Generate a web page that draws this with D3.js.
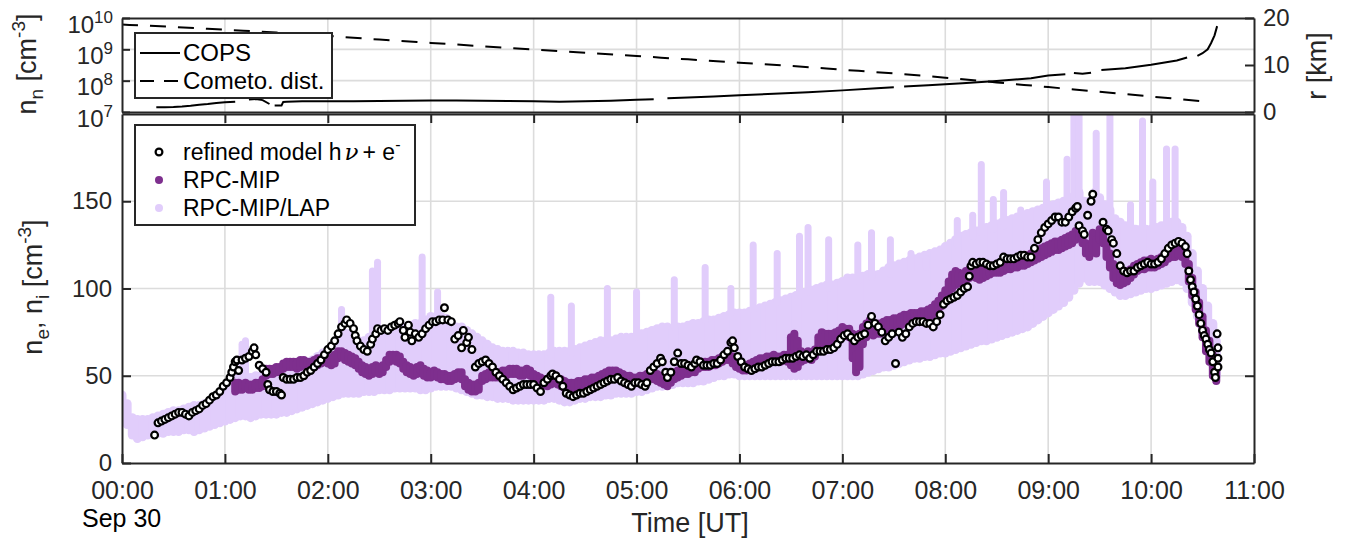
<!DOCTYPE html>
<html><head><meta charset="utf-8">
<script src="https://cdn.jsdelivr.net/npm/d3@7"></script>
<style>body{margin:0;background:#fff} svg{display:block;font-family:"Liberation Sans",Arial,Helvetica,sans-serif}</style>
</head><body><svg id="c" width="1352" height="543"></svg>
<script>
// ---------------- DATA (time in minutes after 00:00 UT, Sep 30) ----------------
const hourTicks = [0,60,120,180,240,300,360,420,480,540,600,660];
const hourLabels = ["00:00","01:00","02:00","03:00","04:00","05:00","06:00","07:00","08:00","09:00","10:00","11:00"];
const nTicks = [0,50,100,150];
const rTicks = [0,10,20];
const logTicks = [1e7,1e8,1e9,1e10];

// COPS neutral density (cm^-3); null marks a data gap
const copsT = [20,25,30,35,40,45,50,55,60,66,68,74,78,82,86,87,89,93,94,96,105,120,135,150,165,180,195,210,225,240,255,270,285,300,310,312,318,330,345,360,380,400,420,440,450,452,456,470,490,510,530,540,550,552,555,560,565,567,571,585,600,615,621,623,627,630,633,635,637,638.5];
const copsV = [1.41e7,1.43e7,1.45e7,1.5e7,1.58e7,1.7e7,1.8e7,1.95e7,2.04e7,2.14e7,null,2.5e7,2.6e7,2.4e7,1.8e7,null,1.6e7,1.62e7,2.1e7,2.14e7,2.2e7,2.2e7,2.2e7,2.24e7,2.29e7,2.34e7,2.34e7,2.29e7,2.24e7,2.2e7,2.14e7,2.2e7,2.29e7,2.45e7,2.55e7,null,2.75e7,2.9e7,3.1e7,3.4e7,3.8e7,4.3e7,4.9e7,5.7e7,6.2e7,null,6.5e7,7.2e7,8.3e7,9.8e7,1.2e8,1.45e8,1.6e8,null,1.75e8,1.65e8,1.8e8,null,2.2e8,2.5e8,3.2e8,4.4e8,5.5e8,null,6.2e8,7.5e8,1.0e9,1.6e9,2.8e9,5.5e9];

// Cometocentric distance (km)
const distT = [0,30,60,90,120,150,180,210,240,270,300,330,360,390,420,450,480,510,540,570,600,633];
const distV = [18.6,18.1,17.5,16.9,16.2,15.4,14.7,14.0,13.3,12.6,11.9,11.2,10.5,9.8,9.0,8.2,7.3,6.3,5.3,4.3,3.3,2.2];

// Refined model h nu + e- (cm^-3)
const modelT = [19,21,23,25,27,29,31,33,35,37,39,41,43,45,47,49,51,53,55,57,59,61,63,64,65,66,67,68,70,72,74,76,77,78,80,82,84,85,86,88,90,92,93,94,96,98,100,102,104,106,108,110,112,114,116,118,120,122,124,126,128,130,131,133,135,136,137,139,141,143,145,146,148,149,151,153,155,157,159,161,162,164,165,167,168,169,171,173,175,177,179,181,183,185,187,188,190,192,194,196,198,199,201,202,204,206,208,210,212,214,216,218,220,222,224,226,228,230,232,234,236,238,240,242,244,246,248,250,251,253,255,257,259,261,263,265,267,269,271,273,275,277,279,281,283,285,287,289,291,293,295,297,299,301,303,305,306,308,310,312,314,315,317,318,320,322,324,326,328,330,332,334,335,337,339,341,343,345,347,349,351,353,355,356,357,359,361,363,365,367,369,371,373,375,377,379,381,383,385,387,389,391,393,395,397,399,401,403,405,407,409,411,413,415,417,419,421,423,425,427,429,431,433,435,437,439,441,443,445,447,449,451,453,455,457,459,461,463,465,467,469,471,473,475,477,479,481,483,485,487,489,491,493,494,495,496,498,500,502,504,506,508,510,512,514,516,518,520,522,524,526,528,530,532,534,536,538,540,542,544,546,548,550,552,554,556,557,558,560,561,563,565,566,572,574,575,577,578,580,582,584,586,588,590,592,594,596,598,600,602,604,606,608,610,612,614,616,618,620,621,622,623,624,625,626,627,628,629,630,631,632,633,634,635,636,637,637.5,638.5,639,639,639];
const modelV = [16,23,24,25,26,27,28,29,29,28,27,29,30,31,33,34,36,38,39,41,44,46,49,52,55,58,59,53,59,60,61,64,66,62,56,54,52,45,42,41,41,40,39,49,48,48,48,49,49,50,52,53,55,57,59,62,65,67,70,74,78,80,82,80,77,73,70,67,65,64,68,71,74,77,76,77,76,78,79,80,81,76,72,79,75,70,74,72,74,77,79,81,81,82,82,89,82,81,71,73,66,76,69,72,65,55,57,58,59,57,55,52,50,48,46,44,42,43,44,45,45,45,45,43,41,46,48,50,51,50,48,44,40,39,38,39,40,40,41,42,43,44,45,46,47,48,48,49,47,46,45,44,46,46,45,44,46,53,55,57,60,58,52,49,52,58,63,57,57,56,55,57,59,58,56,56,56,57,57,59,62,64,69,70,66,61,58,55,54,53,54,55,55,56,57,58,58,58,59,60,60,60,61,62,61,62,60,62,64,64,64,65,65,66,68,71,73,74,72,70,72,73,74,79,84,80,78,75,70,72,74,57,75,72,74,78,80,81,81,81,80,80,78,81,85,91,93,94,95,96,98,100,101,107,113,115,114,115,115,114,113,113,114,115,118,117,117,117,118,119,119,118,118,123,128,132,135,137,139,141,141,138,138,141,144,146,147,136,133,131,142,150,154,138,134,133,128,126,120,113,110,109,110,110,112,113,114,115,114,114,115,117,120,123,125,126,127,126,124,120,110,105,101,98,94,90,85,80,76,73,71,68,65,63,58,52,49,74,66,60,55];

// RPC-MIP (cm^-3): band of dense points, lower / upper edge per 2 min
const mipT  = [66,68,70,72,74,76,78,80,82,84,86,88,90,92,94,96,98,100,102,104,106,108,110,112,114,116,118,120,122,124,126,128,130,132,134,136,138,140,142,144,146,148,150,152,154,156,158,160,162,164,166,168,170,172,174,176,178,180,182,184,186,188,190,192,194,196,198,200,202,204,206,208,210,212,214,216,218,220,222,224,226,228,230,232,234,236,238,240,242,244,246,248,250,252,254,256,258,260,262,264,266,268,270,272,274,276,278,280,282,284,286,288,290,292,294,296,298,300,302,304,306,308,310,312,314,316,318,320,322,324,326,328,330,332,334,336,338,340,342,344,346,348,350,352,354,356,358,360,362,364,366,368,370,372,374,376,378,380,382,384,386,388,390,392,394,396,398,400,402,404,406,408,410,412,414,416,418,420,422,424,426,428,430,432,434,436,438,440,442,444,446,448,450,452,454,456,458,460,462,464,466,468,470,472,474,476,478,480,482,484,486,488,490,492,494,496,498,500,502,504,506,508,510,512,514,516,518,520,522,524,526,528,530,532,534,536,538,540,542,544,546,548,550,552,554,556,558,560,562,564,566,568,570,572,574,576,578,580,582,584,586,588,590,592,594,596,598,600,602,604,606,608,610,612,614,616,618,620,622,624,626,628,630,632,634,636,638];
const mipLo = [41,42,42,43,42,42,43,43,44,50,51,51,52,52,54,55,55,55,54,55,56,55,54,55,56,57,58,57,56,57,60,61,59,58,57,56,54,52,51,50,51,52,51,52,55,58,59,58,57,54,52,51,50,51,53,50,49,49,50,49,48,48,47,47,48,49,48,44,42,41,41,42,47,48,49,49,49,49,50,50,51,51,51,50,50,51,50,48,47,46,45,44,45,46,45,44,43,42,42,43,43,44,44,45,46,46,47,48,49,50,50,49,49,48,47,46,46,46,47,47,48,49,48,47,46,45,44,46,48,49,50,51,51,52,52,54,55,55,55,56,56,57,58,59,59,57,55,54,53,53,54,55,56,57,57,58,58,59,58,58,59,58,56,54,55,58,59,60,59,61,64,66,67,68,68,69,70,72,73,72,60,52,55,68,72,74,73,74,74,75,76,76,77,78,79,80,80,81,81,82,82,82,83,84,86,88,90,92,96,100,102,103,103,104,106,107,106,105,106,107,108,109,109,109,110,111,111,112,112,113,113,114,115,116,117,118,119,120,121,122,122,123,124,125,126,128,130,126,120,118,122,120,128,126,118,112,106,103,102,103,104,106,108,110,111,111,112,112,112,113,114,115,117,118,118,119,118,114,104,96,88,80,72,64,58,50,47];
const mipHi = [46,46,45,46,45,45,46,46,48,54,54,54,55,55,57,58,58,58,58,59,59,58,58,59,60,60,62,61,60,62,64,64,63,62,61,60,58,56,55,54,55,56,55,56,59,62,62,62,61,58,56,55,54,55,56,54,53,52,53,52,51,51,50,50,51,52,52,48,46,45,45,46,50,51,52,52,52,52,53,53,54,54,54,53,53,54,53,51,50,49,48,48,48,49,48,48,47,46,46,46,47,47,48,48,49,49,50,51,52,53,53,53,52,51,50,50,49,49,50,50,51,52,52,51,50,49,48,50,52,53,53,54,54,55,56,57,58,58,58,59,59,60,61,62,62,61,59,57,56,56,57,58,59,60,60,61,61,62,61,61,62,62,72,74,70,64,63,64,63,65,72,75,74,74,74,75,76,78,77,77,74,62,74,78,80,82,80,80,80,81,82,82,83,83,84,85,85,86,86,86,87,87,88,89,91,93,96,99,104,108,110,109,108,110,111,112,111,110,111,112,113,113,114,114,115,115,116,117,117,118,118,119,120,121,122,123,124,125,126,127,127,128,129,130,131,133,135,132,126,124,132,128,134,133,126,120,114,110,108,109,110,111,113,114,115,116,116,117,116,117,118,119,121,122,123,124,123,122,114,106,98,92,84,76,70,62,55];

// RPC-MIP/LAP (cm^-3): main point cloud, lower / upper edge per 3 min
const lapT  = [0,3,6,9,12,15,18,21,24,27,30,33,36,39,42,45,48,51,54,57,60,63,66,69,72,75,78,81,84,87,90,93,96,99,102,105,108,111,114,117,120,123,126,129,132,135,138,141,144,147,150,153,156,159,162,165,168,171,174,177,180,183,186,189,192,195,198,201,204,207,210,213,216,219,222,225,228,231,234,237,240,243,246,249,252,255,258,261,264,267,270,273,276,279,282,285,288,291,294,297,300,303,306,309,312,315,318,321,324,327,330,333,336,339,342,345,348,351,354,357,360,363,366,369,372,375,378,381,384,387,390,393,396,399,402,405,408,411,414,417,420,423,426,429,432,435,438,441,444,447,450,453,456,459,462,465,468,471,474,477,480,483,486,489,492,495,498,501,504,507,510,513,516,519,522,525,528,531,534,537,540,543,546,549,552,555,558,561,564,567,570,573,576,579,582,585,588,591,594,597,600,603,606,609,612,615,618,621,624,627,630,633,636,638];
const lapLo = [29,22,16,14,15,16,17,17,17,18,18,18,19,19,18,19,20,21,22,23,24,25,26,27,27,26,27,28,28,28,28,29,29,30,31,32,33,34,35,36,37,38,39,40,40,40,40,41,41,41,42,42,42,43,43,43,43,43,42,42,43,44,44,44,44,43,42,41,40,39,39,38,38,37,37,37,36,36,36,36,36,36,36,37,37,36,35,35,36,37,37,38,38,38,39,39,40,40,40,40,41,41,42,43,44,44,45,45,46,46,46,46,47,47,48,49,50,50,51,51,50,50,50,50,50,50,50,50,50,50,50,50,50,50,50,50,50,50,50,50,50,50,50,50,51,52,53,54,55,55,56,57,58,59,60,60,61,61,62,63,63,64,65,66,67,68,69,70,70,71,72,73,74,75,76,77,78,80,82,84,86,88,90,92,95,99,103,106,104,104,104,102,100,98,96,96,97,98,99,100,100,101,102,103,104,105,104,100,92,84,75,66,56,50];
const lapHi = [39,34,26,25,25,25,26,27,28,29,30,30,31,32,33,33,34,35,36,38,41,45,48,50,50,49,50,50,50,51,52,52,53,55,56,57,58,59,61,63,65,68,72,75,74,72,70,70,72,73,74,74,75,76,77,78,79,80,80,82,84,84,84,83,80,78,78,76,74,72,70,68,66,65,64,64,64,63,63,62,62,62,62,63,64,64,64,64,65,66,67,68,69,70,70,70,71,72,72,72,73,74,75,76,77,78,78,76,78,78,79,80,80,81,82,82,83,84,85,86,86,86,87,88,89,90,91,92,93,94,95,96,97,98,99,100,101,102,102,103,104,106,106,106,107,108,108,108,110,112,113,114,115,116,117,118,119,120,121,122,124,126,128,130,131,132,133,134,135,136,137,138,139,140,141,142,143,144,145,146,147,148,149,150,152,153,155,150,150,155,152,148,145,140,138,136,135,134,134,134,134,135,136,137,138,138,135,130,120,110,100,90,80,70];

// RPC-MIP/LAP isolated spikes above the main cloud (cm^-3)
const spikeT  = [70,72,128,146,149,175,184,250,262,283,300,322,340,355,368,382,395,400,412,429,437,448,460,469,487,496,501,508,514,524,539,551,555,558,568,576,588,595,601,609,614];
const spikeLo = [48,48,72,70,72,78,82,62,63,68,72,78,82,86,88,92,96,98,100,104,106,108,110,112,125,130,132,134,136,140,145,150,150,152,150,145,135,134,134,135,135];
const spikeHi = [68,70,88,110,115,118,98,95,90,100,98,105,112,100,125,120,130,135,128,125,132,128,120,117,139,142,171,151,155,145,161,174,200,200,189,200,148,196,161,180,180];

// ---------------- CHART ----------------
const C_AX = "#262626", C_GRID = "#dcdcdc", C_MIP = "#7E2F8E", C_LAP = "#E1CDFB";
const svg = d3.select("#c");
const X0 = 122, X1 = 1254;
const T0 = 18, T1 = 112, B0 = 114, B1 = 463;
const x = d3.scaleLinear().domain([0,660]).range([X0,X1]);
const yN = d3.scaleLog().domain([1e7,1e10]).range([T1,T0]);
const yR = d3.scaleLinear().domain([0,20]).range([T1,T0]);
const y = d3.scaleLinear().domain([0,200]).range([B1,B0]);

const defs = svg.append("defs");
defs.append("clipPath").attr("id","clipT").append("rect").attr("x",X0).attr("y",T0).attr("width",X1-X0).attr("height",T1-T0);
defs.append("clipPath").attr("id","clipB").append("rect").attr("x",X0).attr("y",B0).attr("width",X1-X0).attr("height",B1-B0);

// grids
const grid = svg.append("g").attr("stroke",C_GRID).attr("stroke-width",1.6);
hourTicks.slice(1,-1).forEach(t=>{
  grid.append("line").attr("x1",x(t)).attr("x2",x(t)).attr("y1",T0).attr("y2",T1);
  grid.append("line").attr("x1",x(t)).attr("x2",x(t)).attr("y1",B0).attr("y2",B1);
});
[1e8,1e9].forEach(v=>grid.append("line").attr("x1",X0).attr("x2",X1).attr("y1",yN(v)).attr("y2",yN(v)));
[50,100,150].forEach(v=>grid.append("line").attr("x1",X0).attr("x2",X1).attr("y1",y(v)).attr("y2",y(v)));

// ---- top panel data
const gT = svg.append("g").attr("clip-path","url(#clipT)");
const cops = copsT.map((t,i)=>({t, v:copsV[i]}));
gT.append("path").datum(cops).attr("fill","none").attr("stroke","#000").attr("stroke-width",2)
  .attr("d", d3.line().defined(d=>d.v!=null).x(d=>x(d.t)).y(d=>yN(d.v)));
const dist = distT.map((t,i)=>({t, v:distV[i]}));
gT.append("path").datum(dist).attr("fill","none").attr("stroke","#000").attr("stroke-width",2)
  .attr("stroke-dasharray","16,12")
  .attr("d", d3.line().curve(d3.curveMonotoneX).x(d=>x(d.t)).y(d=>yR(d.v)));

// ---- bottom panel data
const gB = svg.append("g").attr("clip-path","url(#clipB)");
const gLap = gB.append("g").attr("stroke",C_LAP).attr("stroke-linecap","round");
gLap.selectAll("line.band").data(lapT).join("line").attr("class","band")
  .attr("x1",t=>x(t)).attr("x2",t=>x(t))
  .attr("y1",(t,i)=>y(lapLo[i])).attr("y2",(t,i)=>y(lapHi[i])).attr("stroke-width",9);
gLap.selectAll("line.spk").data(spikeT).join("line").attr("class","spk")
  .attr("x1",t=>x(t)).attr("x2",t=>x(t))
  .attr("y1",(t,i)=>y(spikeLo[i])).attr("y2",(t,i)=>y(spikeHi[i])).attr("stroke-width",7);
const gMip = gB.append("g").attr("stroke",C_MIP).attr("stroke-linecap","round");
gMip.selectAll("line").data(mipT).join("line")
  .attr("x1",t=>x(t)).attr("x2",t=>x(t))
  .attr("y1",(t,i)=>y(mipLo[i])).attr("y2",(t,i)=>y(mipHi[i])).attr("stroke-width",8);
gB.append("g").selectAll("circle").data(modelT).join("circle")
  .attr("cx",t=>x(t)).attr("cy",(t,i)=>y(modelV[i])).attr("r",3.4)
  .attr("fill","#fff").attr("stroke","#000").attr("stroke-width",2.2);

// ---- axes
function styleAxis(g, fs){
  g.select(".domain").attr("stroke",C_AX).attr("stroke-width",2);
  g.selectAll(".tick line").attr("stroke",C_AX).attr("stroke-width",2);
  g.selectAll(".tick text").attr("fill",C_AX).attr("font-size",fs).attr("font-family","'Liberation Sans',Arial,sans-serif");
}
// bottom panel
const fmtHour = d => hourLabels[hourTicks.indexOf(d)];
styleAxis(svg.append("g").attr("transform",`translate(0,${B1})`)
  .call(d3.axisBottom(x).tickValues(hourTicks).tickFormat(fmtHour).tickSizeInner(-9).tickSizeOuter(0).tickPadding(18)), 25);
styleAxis(svg.append("g").attr("transform",`translate(0,${B0})`)
  .call(d3.axisTop(x).tickValues(hourTicks.slice(1,-1)).tickFormat("").tickSizeInner(-9).tickSizeOuter(0)), 25);
styleAxis(svg.append("g").attr("transform",`translate(${X0},0)`)
  .call(d3.axisLeft(y).tickValues(nTicks).tickSizeInner(-9).tickSizeOuter(0).tickPadding(10)), 24);
styleAxis(svg.append("g").attr("transform",`translate(${X1},0)`)
  .call(d3.axisRight(y).tickValues(nTicks.slice(1)).tickFormat("").tickSizeInner(-9).tickSizeOuter(0)), 24);
// top panel
styleAxis(svg.append("g").attr("transform",`translate(0,${T1})`)
  .call(d3.axisBottom(x).tickValues([]).tickSizeOuter(0)), 24);
styleAxis(svg.append("g").attr("transform",`translate(0,${T0})`)
  .call(d3.axisTop(x).tickValues([]).tickSizeOuter(0)), 24);
const gLeftT = svg.append("g").attr("transform",`translate(${X0},0)`)
  .call(d3.axisLeft(yN).tickValues(logTicks).tickSizeInner(-8).tickSizeOuter(0).tickPadding(9));
styleAxis(gLeftT, 24);
gLeftT.selectAll(".tick text").each(function(d){
  const s = d3.select(this); s.text(null).attr("dy",null).attr("y",14);
  s.append("tspan").text("10");
  s.append("tspan").attr("font-size",17).attr("dy",-10).text(Math.round(Math.log10(d)));
});
styleAxis(svg.append("g").attr("transform",`translate(${X1},0)`)
  .call(d3.axisRight(yR).tickValues(rTicks).tickSizeInner(-9).tickSizeOuter(0).tickPadding(9)), 24);

// ---- axis titles
const font = "'Liberation Sans',Arial,sans-serif";
const lt = svg.append("text").attr("transform","translate(36,64) rotate(-90)").attr("text-anchor","middle")
  .attr("font-size",27).attr("fill",C_AX).attr("font-family",font);
lt.append("tspan").text("n");
lt.append("tspan").attr("font-size",19).attr("dy",7).text("n");
lt.append("tspan").attr("dy",-7).text(" [cm");
lt.append("tspan").attr("font-size",19).attr("dy",-11).text("-3");
lt.append("tspan").attr("dy",11).text("]");

const lb = svg.append("text").attr("transform","translate(42,287) rotate(-90)").attr("text-anchor","middle")
  .attr("font-size",27).attr("fill",C_AX).attr("font-family",font);
lb.append("tspan").text("n");
lb.append("tspan").attr("font-size",19).attr("dy",7).text("e");
lb.append("tspan").attr("dy",-7).text(", n");
lb.append("tspan").attr("font-size",19).attr("dy",7).text("i");
lb.append("tspan").attr("dy",-7).text(" [cm");
lb.append("tspan").attr("font-size",19).attr("dy",-11).text("-3");
lb.append("tspan").attr("dy",11).text("]");

svg.append("text").attr("transform","translate(1326,66) rotate(-90)").attr("text-anchor","middle")
  .attr("font-size",27).attr("fill",C_AX).attr("font-family",font).text("r [km]");
svg.append("text").attr("x",690).attr("y",532).attr("text-anchor","middle")
  .attr("font-size",27).attr("fill",C_AX).attr("font-family",font).text("Time [UT]");
svg.append("text").attr("x",82).attr("y",527)
  .attr("font-size",25).attr("fill","#000").attr("font-family",font).text("Sep 30");

// ---- legends
const lgT = svg.append("g");
lgT.append("rect").attr("x",135).attr("y",33).attr("width",197).attr("height",65)
  .attr("fill","#fff").attr("stroke",C_AX).attr("stroke-width",2);
lgT.append("line").attr("x1",140).attr("x2",180).attr("y1",53).attr("y2",53).attr("stroke","#000").attr("stroke-width",2);
lgT.append("line").attr("x1",140).attr("x2",180).attr("y1",81).attr("y2",81).attr("stroke","#000").attr("stroke-width",2).attr("stroke-dasharray","14,10");
lgT.append("text").attr("x",183).attr("y",61).attr("font-size",24).attr("font-family",font).text("COPS");
lgT.append("text").attr("x",183).attr("y",89).attr("font-size",24).attr("font-family",font).text("Cometo. dist.");

const lgB = svg.append("g");
lgB.append("rect").attr("x",135).attr("y",125).attr("width",280).attr("height",100)
  .attr("fill","#fff").attr("stroke",C_AX).attr("stroke-width",2);
lgB.append("circle").attr("cx",159).attr("cy",152).attr("r",3.4).attr("fill","#fff").attr("stroke","#000").attr("stroke-width",2.2);
lgB.append("circle").attr("cx",159).attr("cy",180).attr("r",4).attr("fill",C_MIP);
lgB.append("circle").attr("cx",159).attr("cy",208).attr("r",4).attr("fill",C_LAP);
const t1 = lgB.append("text").attr("x",183).attr("y",160).attr("font-size",23).attr("font-family",font);
t1.append("tspan").text("refined model h");
t1.append("tspan").attr("font-family","'DejaVu Serif',serif").attr("font-style","italic").attr("dx",3).text("\u03BD");
t1.append("tspan").attr("dx",4).text("+ e");
t1.append("tspan").attr("font-size",16).attr("dy",-10).text("-");
lgB.append("text").attr("x",183).attr("y",188).attr("font-size",23).attr("font-family",font).text("RPC-MIP");
lgB.append("text").attr("x",183).attr("y",216).attr("font-size",23).attr("font-family",font).text("RPC-MIP/LAP");
</script></body></html>
